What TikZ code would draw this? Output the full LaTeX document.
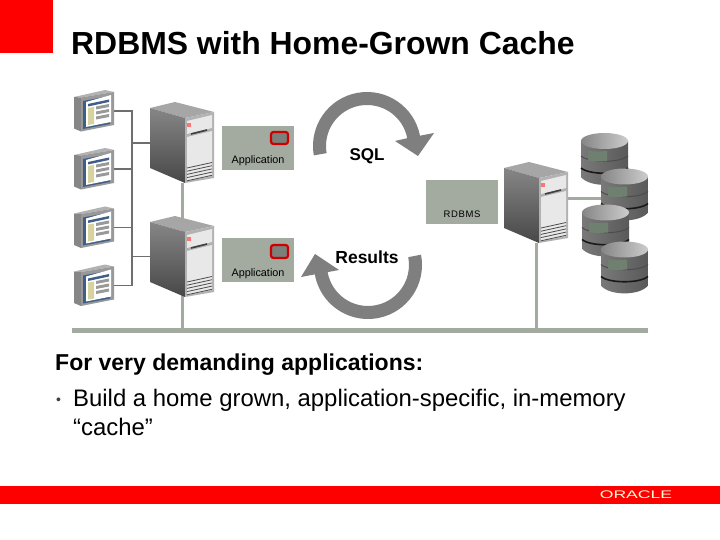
\documentclass[tikz,border=0pt]{standalone}
\usepackage{fontspec}
\usetikzlibrary{calc}
\setmainfont{Liberation Sans}
\definecolor{orared}{HTML}{FF0000}
\definecolor{boxgrey}{HTML}{A3AAA0}
\definecolor{wire}{HTML}{6E6E6E}
\definecolor{arrowgrey}{HTML}{7F7F7F}
\definecolor{diskgreen}{HTML}{6F8070}
\definecolor{scrblue}{HTML}{3E5F8A}
\definecolor{btn}{HTML}{7C807A}
\definecolor{beige}{HTML}{D6D3A0}
\tikzset{
  x=1pt,y=-1pt,
  anchorbox/.style={inner sep=0pt,outer sep=0pt,minimum width=#1},
  bus/.style={draw=boxgrey,line width=3pt},
  thinwire/.style={draw=wire,line width=1.2pt},
  appbox/.style={fill=boxgrey,inner sep=0pt,minimum width=72pt,minimum height=44pt},
  boxlabel/.style={font=\fontsize{10.8}{11}\selectfont,text=black},
  appbtn/.style={draw=red!80!black,line width=2.2pt,fill=btn,rounded corners=2.5pt},
  cyclearrow/.style={fill=arrowgrey},
  pics/server/.style={code={
    \fill[gray!70] (0,6) -- (25,0) -- (64,10) -- (35,16) -- cycle;
    \shade[top color=gray!95,bottom color=black!72] (0,6) -- (35,16) -- (35,81) -- (0,66) -- cycle;
    \fill[gray!60] (35,16) -- (64,10) -- (64,76) -- (35,81) -- cycle;
    \fill[gray!18] (37,19) -- (62,13) -- (62,26) -- (37,32) -- cycle;
    \fill[gray!18] (37,35) -- (62,29) -- (62,74) -- (37,79) -- cycle;
    \fill[red!55!white] (37,21) rectangle (41,25);
    \draw[black!75,line width=1.6pt] (41,32) -- (57,28);
    \foreach \q in {0,3.2,6.4,9.6,12.8} {\draw[black!70,line width=.8pt] (37,{66+\q}) -- (62,{60.5+\q});}
  }},
  pics/monitor/.style={code={
    \fill[gray!60] (0,7) -- (31,0) -- (40,2) -- (7,7.5) -- cycle;
    \fill[gray!95] (0,7) -- (7,7.5) -- (7,41.5) -- (0,38.5) -- cycle;
    \fill[gray!80] (7,7.5) -- (40,2) -- (40,35) -- (7,41.5) -- cycle;
    \fill[scrblue] (9,11) -- (36,6) -- (36,34) -- (9,39) -- cycle;
    \fill[white] (12,12) -- (37,5) -- (37,32) -- (12,37) -- cycle;
    \fill[scrblue] (14,14) -- (35,9.5) -- (35,12) -- (14,16.5) -- cycle;
    \fill[beige] (14,18) -- (20,17) -- (20,34) -- (14,35) -- cycle;
    \foreach \q in {0,5,10} {\fill[gray!80] (22,{16.5+\q}) -- (35,{14+\q}) -- (35,{17+\q}) -- (22,{19.5+\q}) -- cycle;}
  }},
  pics/disk/.style={code={
    \shade[left color=gray!105,middle color=gray!35,right color=black!65] (0,8) -- (0,44) .. controls (8,54.5) and (39,54.5) .. (47,44) -- (47,8) -- cycle;
    \draw[black!70,line width=1pt] (0,23) .. controls (8,30) and (39,30) .. (47,23);
    \draw[black!90,line width=1.6pt] (0,35) .. controls (8,42) and (39,42) .. (47,35);
    \shade[left color=gray!95,right color=gray!40] (23.5,8) ellipse[x radius=23.5,y radius=8];
    \fill[diskgreen] (7,18) .. controls (13,18.5) and (20,18.5) .. (26,18) -- (26,28) .. controls (20,28.5) and (13,28.5) .. (7,28) -- cycle;
  }}
}
\begin{document}
\begin{tikzpicture}
\useasboundingbox (0,0) rectangle (720,540);
\fill[white] (0,0) rectangle (720,540);
% brand
\fill[orared] (0,0) rectangle (53,53);
\fill[orared] (0,486) rectangle (720,504);
\node[anchor=center,inner sep=0pt,text=yellow!15!white,font=\fontsize{11}{11}\selectfont,xscale=1.6] (logo) at (636,495) {ORACLE};
% title
\node[anchor=base west,inner sep=0pt,font=\bfseries\fontsize{31.9}{32}\selectfont] (title) at (71,55) {RDBMS with Home-Grown Cache};
% anchors
\foreach \n/\yy in {mon1/111,mon2/169,mon3/227.5,mon4/285.5}
  \node[anchorbox=40pt,minimum height=42pt] (\n) at (94,\yy) {};
\node[anchorbox=64pt,minimum height=81pt] (srv1) at (182,142.5) {};
\node[anchorbox=64pt,minimum height=81pt] (srv2) at (182,256.5) {};
\node[anchorbox=64pt,minimum height=81pt] (srv3) at (536,202.5) {};
\node[anchorbox=47pt,minimum height=52pt] (disk2) at (624.5,194.5) {};
\coordinate (busL) at (72,330.5);
\coordinate (busR) at (648,330.5);
\coordinate (lanA) at (132,143);
\coordinate (lnk) at ([yshift=4pt]srv3.east);
% connectors
\draw[thinwire] (mon1.east) -| (lanA);
\draw[thinwire] (mon2.east) -| (lanA);
\draw[thinwire] (mon3.east) -| (lanA);
\draw[thinwire] (mon4.east) -| (lanA);
\draw[thinwire] (lanA) -- (lanA -| srv1.west);
\draw[thinwire] (srv2.west) -| (lanA);
\draw[bus] (srv1.south) -- (srv1.south |- busL);
\draw[bus] (srv3.south) -- (srv3.south |- busL);
\draw[bus] (lnk) -- (disk2.west |- lnk);
\draw[draw=boxgrey,line width=4.5pt] (busL) -- (busR);
% monitors, servers, disks
\pic at (74,90) {monitor};
\pic at (74,148) {monitor};
\pic at (74,206.5) {monitor};
\pic at (74,264.5) {monitor};
\pic at (150,102) {server};
\pic at (150,216) {server};
\pic at (504,162) {server};
\pic at (581,133) {disk};
\pic at (601,168.5) {disk};
\pic at (582,204.5) {disk};
\pic at (601,241.5) {disk};
% boxes
\node[appbox,anchor=north west] (app1) at (222,126) {};
\node[appbox,anchor=north west] (app2) at (222,238) {};
\node[appbox,anchor=north west] (rdbms) at (426,180) {};
\node[boxlabel,anchor=base] (app1t) at (258,164) {Application};
\node[boxlabel,anchor=base] (app2t) at (258,276) {Application};
\node[font=\fontsize{9.5}{10}\selectfont,text=black,anchor=base] (rdbmst) at (462,218) {R\kern.6pt D\kern.6pt B\kern.6pt M\kern.6pt S};
\draw[appbtn] (271,132) rectangle (288,144);
\draw[appbtn] (271,245) rectangle (288,258);
% cycle arrows
\coordinate (sqlc) at (367,146);
\coordinate (resc) at (368,265);
\fill[cyclearrow] ($(sqlc)+(170:54)$) arc[start angle=170,end angle=349,radius=54] -- (434,133) -- (418,156) -- (395,141) -- ($(sqlc)+(349:41)$) arc[start angle=349,end angle=170,radius=41] -- cycle;
\fill[cyclearrow] ($(resc)+(-11:54)$) arc[start angle=-11,end angle=170,radius=54] -- (301,277) -- (315,254) -- (339,270) -- ($(resc)+(170:41)$) arc[start angle=170,end angle=-11,radius=41] -- cycle;
\node[font=\bfseries\fontsize{17}{18}\selectfont,inner sep=0pt] (sql) at (367,156) {SQL};
\node[font=\bfseries\fontsize{17.5}{18}\selectfont,inner sep=0pt] (results) at (367,257) {Results};
% body text
\node[anchor=base west,inner sep=0pt,font=\bfseries\fontsize{23}{24}\selectfont] (b0) at (55,370) {For very demanding applications:};
\node[anchor=base west,inner sep=0pt,text=black!75,font=\fontsize{14}{14}\selectfont] (bul) at (56,404) {•};
\node[anchor=base west,inner sep=0pt,font=\fontsize{23.9}{24}\selectfont] (b1) at (73,406) {Build a home grown, application-specific, in-memory};
\node[anchor=base west,inner sep=0pt,font=\fontsize{23.9}{24}\selectfont] (b2) at (73,435) {“cache”};
\end{tikzpicture}
\end{document}
